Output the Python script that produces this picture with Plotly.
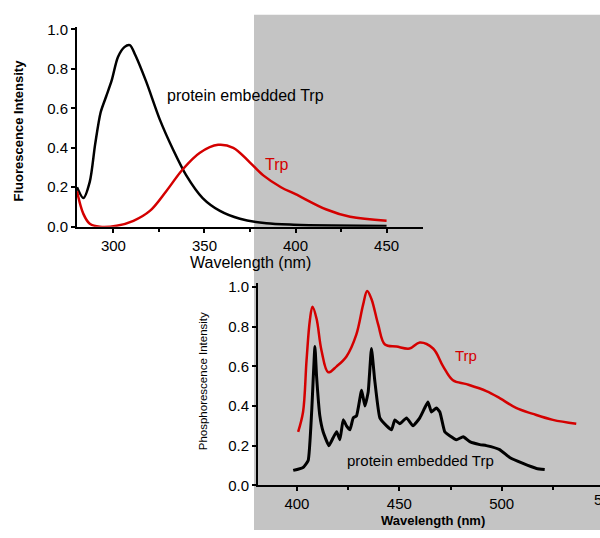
import plotly.graph_objects as go

# ---------------- data ----------------
# Top: fluorescence
fl_prot_wl = [280, 283.5, 287, 290, 293, 296, 299, 302.5, 306, 309, 312, 318, 325.6, 332.8, 340, 349, 358.5, 369.5, 384, 399, 420, 450]
fl_prot_y  = [0.20, 0.145, 0.227, 0.42, 0.58, 0.66, 0.74, 0.86, 0.91, 0.92, 0.87, 0.735, 0.54, 0.39, 0.26, 0.145, 0.08, 0.04, 0.017, 0.01, 0.006, 0.004]

fl_trp_wl = [280, 283.5, 287, 292.6, 301.8, 311, 320, 329, 338, 347.5, 357.5, 365.8, 375, 382.3, 392, 400, 417, 430, 450]
fl_trp_y  = [0.18, 0.065, 0.015, 0.0, 0.005, 0.03, 0.08, 0.18, 0.29, 0.375, 0.415, 0.40, 0.325, 0.26, 0.20, 0.165, 0.087, 0.05, 0.03]

# Bottom: phosphorescence
ph_trp_wl = [400.6, 403, 404.7, 406.3, 407.6, 409.6, 412, 415.3, 419.4, 424.2, 429, 432.3, 434.3, 436.4, 439.7, 443,
             448.6, 455, 460, 466.5, 471.4, 476.2, 482.8, 492.5, 499, 507, 515.3, 525, 536.4]
ph_trp_y  = [0.27, 0.37, 0.63, 0.83, 0.90, 0.84, 0.68, 0.57, 0.60, 0.65, 0.76, 0.91, 0.98, 0.94, 0.81, 0.71,
             0.70, 0.69, 0.72, 0.69, 0.60, 0.53, 0.51, 0.475, 0.44, 0.39, 0.36, 0.33, 0.31]

ph_prot_wl = [398.2, 403, 405.5, 407.2, 408.8, 409.6, 411.2, 412.8, 415.6, 417.7, 419.4, 421, 422.6, 424.2, 425.9,
              427.5, 429.1, 431.6, 433.2, 434.8, 436.4, 438, 440.5, 443.8, 446.2, 447.8, 450.2, 453.5, 456.7,
              460, 462.4, 464, 465.7, 468.1, 469.8, 472.2, 474.6, 477.9, 481.2, 484.4, 489.3, 492.5, 499,
              503.9, 510.4, 517, 521]
ph_prot_y  = [0.075, 0.09, 0.125, 0.37, 0.70, 0.55, 0.35, 0.27, 0.20, 0.24, 0.27, 0.23, 0.33, 0.30, 0.28,
              0.34, 0.35, 0.48, 0.40, 0.47, 0.69, 0.53, 0.34, 0.30, 0.28, 0.33, 0.31, 0.34, 0.30,
              0.34, 0.39, 0.42, 0.37, 0.39, 0.37, 0.27, 0.25, 0.23, 0.245, 0.22, 0.205, 0.20, 0.18,
              0.14, 0.11, 0.085, 0.08]

top_xticks = [300, 350, 400, 450]
bot_xticks = [400, 450, 500]
yticks = [0.0, 0.2, 0.4, 0.6, 0.8, 1.0]

W, H = 600, 538
def px(x): return x / W
def py(y): return 1 - y / H

RED = "#d40000"
BLACK = "#000000"
FONT = "Liberation Sans, Arial, sans-serif"

fig = go.Figure()
fig.add_trace(go.Scatter(x=fl_prot_wl, y=fl_prot_y, mode="lines", line=dict(color=BLACK, width=2.5, shape="spline", smoothing=0.8),
                         xaxis="x", yaxis="y", showlegend=False))
fig.add_trace(go.Scatter(x=fl_trp_wl, y=fl_trp_y, mode="lines", line=dict(color=RED, width=2.5, shape="spline"),
                         xaxis="x", yaxis="y", showlegend=False))
fig.add_trace(go.Scatter(x=ph_trp_wl, y=ph_trp_y, mode="lines", line=dict(color=RED, width=2.5, shape="spline", smoothing=1.0),
                         xaxis="x2", yaxis="y2", showlegend=False))
fig.add_trace(go.Scatter(x=ph_prot_wl, y=ph_prot_y, mode="lines", line=dict(color=BLACK, width=3, shape="spline", smoothing=0.4),
                         xaxis="x2", yaxis="y2", showlegend=False))

tickfont = dict(family=FONT, size=15, color=BLACK)
axcommon = dict(showgrid=False, zeroline=False, showline=True, linecolor=BLACK, linewidth=2,
                ticks="outside", ticklen=4, tickwidth=1.5, tickcolor=BLACK, tickfont=tickfont)

fig.update_layout(
    width=W, height=H,
    margin=dict(l=0, r=0, t=0, b=0),
    paper_bgcolor="white", plot_bgcolor="rgba(0,0,0,0)",
    xaxis=dict(domain=[px(77), px(423)], range=[280, 470], anchor="y", tickvals=top_xticks,
               ticktext=[str(v) for v in top_xticks],
               minor=dict(tickvals=[325, 375, 425], ticks="outside", ticklen=3, tickcolor=BLACK), **axcommon),
    yaxis=dict(domain=[py(226), py(21)], range=[0, 1.01], anchor="x", tickvals=yticks,
               ticktext=[f"{v:.1f}" for v in yticks], **axcommon),
    xaxis2=dict(domain=[px(258), 1.0], range=[381, 548], anchor="y2", tickvals=bot_xticks,
                ticktext=[str(v) for v in bot_xticks],
                minor=dict(tickvals=[425, 475, 525], ticks="outside", ticklen=3, tickcolor=BLACK), **axcommon),
    yaxis2=dict(domain=[py(492), py(284)], range=[0, 1.02], anchor="x2", tickvals=yticks,
                ticktext=[f"{v:.1f}" for v in yticks], **axcommon),
    shapes=[dict(type="rect", xref="paper", yref="paper", x0=px(254), x1=1.0, y0=0, y1=py(8),
                 fillcolor="#c4c4c4", line=dict(width=0), layer="below")],
)

def ann(text, x, y, size, color=BLACK, angle=0, bold=False):
    fig.add_annotation(text=f"<b>{text}</b>" if bold else text, xref="paper", yref="paper",
                       x=px(x), y=py(y), showarrow=False, textangle=angle,
                       font=dict(family=FONT, size=size, color=color), xanchor="center", yanchor="middle")

ann("protein embedded Trp", 246, 91, 16)
ann("Trp", 277, 162, 16, color=RED)
ann("Fluorescence Intensity", 18, 127, 13, angle=-90, bold=True)
ann("Wavelength (nm)", 250, 263, 16)

ann("protein embedded Trp", 420, 467, 15)
ann("Trp", 466, 359, 15, color=RED)
ann("Phosphorescence Intensity", 203, 385, 11.5, angle=-90)
ann("Wavelength (nm)", 433, 528, 13, bold=True)
ann("550", 606, 507, 15)

fig.write_html("out.html")
